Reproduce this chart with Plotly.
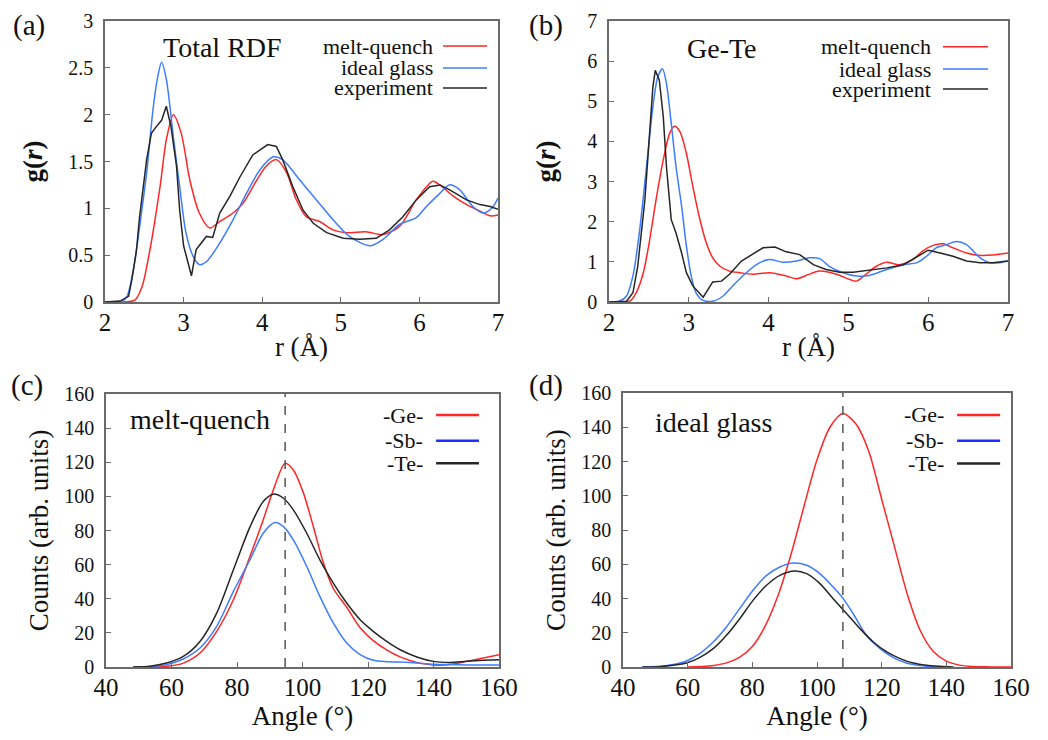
import plotly.graph_objects as go

# ---------------- data ----------------
# (a) Total RDF
r_a_mq = [2.0, 2.2, 2.38, 2.47, 2.57, 2.70, 2.78, 2.87, 2.97, 3.08, 3.2, 3.33, 3.46, 3.63, 3.76, 3.93, 4.05,
          4.18, 4.31, 4.43, 4.56, 4.73, 4.9, 5.07, 5.32, 5.54, 5.75, 5.96, 6.17, 6.26, 6.43, 6.6, 6.77, 6.9, 7.0]
g_a_mq = [0, 0, 0.02, 0.16, 0.55, 1.23, 1.73, 2.0, 1.8, 1.3, 0.95, 0.79, 0.86, 0.95, 1.06, 1.3, 1.45,
          1.52, 1.38, 1.1, 0.91, 0.86, 0.77, 0.74, 0.75, 0.72, 0.81, 1.09, 1.29, 1.25, 1.13, 1.04, 0.97, 0.92, 0.93]
r_a_ig = [2.0, 2.15, 2.22, 2.28, 2.36, 2.40, 2.44, 2.53, 2.61, 2.67, 2.72, 2.78, 2.87, 2.95, 3.03, 3.12, 3.2,
          3.29, 3.46, 3.63, 3.8, 3.97, 4.14, 4.26, 4.48, 4.69, 4.9, 5.11, 5.37, 5.54, 5.75, 5.96, 6.09, 6.26,
          6.38, 6.51, 6.68, 6.81, 6.92, 7.0]
g_a_ig = [0, 0, 0.01, 0.06, 0.34, 0.55, 0.8, 1.38, 2.05, 2.4, 2.56, 2.38, 1.76, 1.23, 0.74, 0.49, 0.4,
          0.43, 0.63, 0.88, 1.16, 1.41, 1.55, 1.52, 1.3, 1.09, 0.88, 0.70, 0.6, 0.67, 0.83, 0.9, 1.02, 1.16,
          1.25, 1.2, 1.02, 0.95, 1.0, 1.11]
r_a_ex = [2.0, 2.19, 2.30, 2.34, 2.40, 2.44, 2.53, 2.59, 2.65, 2.72, 2.78, 2.84, 2.91, 2.95, 3.0, 3.05, 3.10,
          3.16, 3.23, 3.29, 3.37, 3.46, 3.59, 3.72, 3.88, 4.01, 4.07, 4.18, 4.26, 4.39, 4.52, 4.65, 4.82, 5.03,
          5.24, 5.45, 5.62, 5.79, 5.96, 6.13, 6.26, 6.38, 6.6, 6.77, 6.9, 7.0]
g_a_ex = [0, 0.01, 0.06, 0.23, 0.55, 0.91, 1.52, 1.8, 1.87, 1.94, 2.09, 1.87, 1.45, 0.98, 0.6, 0.45, 0.28,
          0.56, 0.63, 0.7, 0.69, 0.95, 1.13, 1.34, 1.57, 1.64, 1.68, 1.66, 1.52, 1.23, 0.98, 0.84, 0.74, 0.68,
          0.67, 0.68, 0.77, 0.91, 1.09, 1.23, 1.25, 1.2, 1.09, 1.04, 1.02, 0.99]

# (b) Ge-Te partial RDF
r_b_mq = [2.0, 2.22, 2.26, 2.34, 2.43, 2.51, 2.59, 2.68, 2.76, 2.82, 2.89, 2.97, 3.05, 3.14, 3.22, 3.3, 3.39,
          3.51, 3.64, 3.8, 4.01, 4.22, 4.35, 4.47, 4.64, 4.85, 5.02, 5.1, 5.22, 5.35, 5.48, 5.64, 5.81, 5.93,
          6.06, 6.19, 6.31, 6.48, 6.65, 6.81, 7.0]
g_b_mq = [0, 0, 0.02, 0.23, 0.73, 1.55, 2.55, 3.54, 4.2, 4.38, 4.24, 3.7, 2.88, 2.05, 1.47, 1.1, 0.89,
          0.77, 0.73, 0.69, 0.73, 0.65, 0.58, 0.66, 0.77, 0.69, 0.56, 0.52, 0.69, 0.89, 0.99, 0.93, 1.06, 1.27,
          1.41, 1.45, 1.35, 1.22, 1.16, 1.17, 1.22]
r_b_ig = [2.0, 2.13, 2.22, 2.3, 2.38, 2.47, 2.55, 2.61, 2.67, 2.72, 2.78, 2.84, 2.91, 2.97, 3.03, 3.09, 3.18,
          3.3, 3.43, 3.55, 3.72, 3.89, 4.01, 4.18, 4.35, 4.51, 4.64, 4.76, 4.93, 5.1, 5.26, 5.48, 5.69, 5.86,
          5.98, 6.1, 6.23, 6.35, 6.48, 6.65, 6.77, 6.9, 7.0]
g_b_ig = [0, 0.02, 0.15, 0.65, 1.72, 3.37, 4.86, 5.6, 5.81, 5.44, 4.45, 3.37, 2.38, 1.39, 0.65, 0.23, 0.04,
          0.02, 0.15, 0.4, 0.73, 0.98, 1.06, 0.99, 1.02, 1.1, 1.08, 0.89, 0.73, 0.65, 0.66, 0.81, 0.93, 0.98,
          1.14, 1.35, 1.43, 1.51, 1.43, 1.1, 0.98, 0.98, 1.02]
r_b_ex = [2.0, 2.22, 2.3, 2.36, 2.45, 2.51, 2.55, 2.58, 2.63, 2.68, 2.72, 2.78, 2.84, 2.91, 2.97, 3.05, 3.18,
          3.24, 3.3, 3.41, 3.51, 3.66, 3.8, 3.93, 4.08, 4.22, 4.39, 4.56, 4.72, 4.89, 5.06, 5.26, 5.48, 5.69,
          5.9, 6.0, 6.15, 6.31, 6.48, 6.65, 6.81, 7.0]
g_b_ex = [0, 0.02, 0.23, 0.89, 2.55, 4.2, 5.36, 5.77, 5.53, 4.62, 3.37, 2.05, 1.72, 1.22, 0.73, 0.4, 0.12,
          0.31, 0.5, 0.52, 0.69, 1.02, 1.18, 1.35, 1.37, 1.25, 1.18, 0.93, 0.81, 0.74, 0.74, 0.79, 0.85, 0.93,
          1.18, 1.29, 1.22, 1.14, 1.02, 0.98, 0.98, 1.02]

# (c) bond-angle distributions, melt-quench
ang_c_ge = [48.3, 53.4, 58.5, 63.6, 68.7, 73.8, 78.9, 84, 88, 91.1, 94.7, 97.2, 100.3, 103.3, 106.4, 109.4,
            113.5, 117.6, 121.6, 125.7, 129.8, 134.9, 140, 145, 150.1, 155.2, 160]
cnt_c_ge = [0, 0, 0.4, 2.3, 8.2, 20.9, 39.4, 65, 86.2, 103.8, 119.4, 115.5, 101.9, 82.3, 60.9, 46,
            35, 23, 15.5, 10.1, 5.9, 2.7, 1.2, 1.4, 3.3, 5.3, 7.2]
ang_c_sb = [48.3, 53.4, 58.5, 63.6, 68.7, 73.8, 78.9, 84, 88, 91.6, 94.2, 97.2, 101.3, 105.3, 109.4, 113.5,
            117.6, 121.6, 125.7, 129.8, 134.9, 140, 145, 150.1, 155.2, 160]
cnt_c_sb = [0, 0.2, 1.4, 4.7, 11.1, 23.8, 44.3, 63, 78.4, 84.7, 82.3, 74.5, 58.9, 41.4, 25.8, 14,
            7.2, 3.9, 3.1, 2.9, 2.3, 1.6, 1.4, 1.2, 1.2, 1.2]
ang_c_te = [48.3, 53.4, 58.5, 63.6, 68.7, 73.8, 78.9, 84, 88, 91.1, 94.2, 97.2, 101.3, 105.3, 109.4, 113.5,
            117.6, 121.6, 125.7, 129.8, 134.9, 140, 145, 150.1, 155.2, 160]
cnt_c_te = [0, 0.4, 2.3, 6.2, 15, 31.6, 57, 82.3, 97, 101.3, 98.9, 92.1, 78.4, 62.8, 49.2, 37.5,
            27.7, 20.9, 15, 10.1, 5.9, 3.3, 2.7, 3.3, 3.9, 4.3]
ref_angle_c = 94.7

# (d) bond-angle distributions, ideal glass
ang_d_ge = [60, 64, 68, 72, 76, 80, 84, 88, 92, 96, 100, 104, 108, 112, 116, 120, 124, 128, 132, 136,
            140, 144, 148, 152, 156, 160]
cnt_d_ge = [0, 0.3, 0.9, 2.4, 5.6, 12, 24, 42, 66, 94, 121, 140, 148, 142, 126, 98, 70, 42, 21, 9,
            3.4, 1.1, 0.3, 0.1, 0, 0]
ang_d_sb = [46, 51.4, 55.5, 59.6, 63.7, 67.9, 72, 76.1, 80.2, 84.4, 88.5, 92.6, 96.8, 100.9, 105, 108.1,
            111.2, 115.3, 119.5, 123.6, 127.7, 131.8, 136, 141]
cnt_d_sb = [0, 0.4, 1.4, 3.5, 7.8, 14.6, 23.4, 34.1, 44.8, 53.5, 58.4, 60.7, 59.4, 54.5, 46.7, 39.9,
            31.1, 18.5, 10.7, 5.5, 2.3, 0.8, 0.2, 0]
ang_d_te = [46, 51.4, 55.5, 59.6, 63.7, 67.9, 72, 76.1, 80.2, 84.4, 88.5, 93.1, 96.8, 100.9, 105, 109.2,
            113.3, 117.4, 121.6, 125.7, 129.8, 133.9, 138, 142.2]
cnt_d_te = [0, 0.2, 1, 2.3, 5.5, 10.7, 18.5, 28.2, 38.9, 47.7, 53.5, 56.1, 54.5, 48.7, 39.9, 31.1,
            22.4, 14.6, 8.8, 4.9, 2.3, 1, 0.4, 0]
ref_angle_d = 108

rdf_series = ["melt-quench", "ideal glass", "experiment"]
bad_series = ["-Ge-", "-Sb-", "-Te-"]

# ---------------- style ----------------
FONT = "Liberation Serif"
RED = "#ff2626"
BLUE = "#3d7cff"
BLUE_LEG = "#1e2dff"
BLACK = "#262626"
FRAME = "#6a6a6a"
TXT = "#111111"

fig = go.Figure()


def add(x, y, color, xa, ya, name, shape="spline"):
    fig.add_trace(go.Scatter(
        x=x, y=y, mode="lines", name=name, showlegend=False,
        line=dict(color=color, width=1.5, shape=shape, smoothing=0.8),
        xaxis=xa, yaxis=ya, hoverinfo="x+y+name"))


add(r_a_mq, g_a_mq, RED, "x", "y", rdf_series[0])
add(r_a_ig, g_a_ig, BLUE, "x", "y", rdf_series[1])
add(r_a_ex, g_a_ex, BLACK, "x", "y", rdf_series[2], "linear")

add(r_b_mq, g_b_mq, RED, "x2", "y2", rdf_series[0])
add(r_b_ig, g_b_ig, BLUE, "x2", "y2", rdf_series[1])
add(r_b_ex, g_b_ex, BLACK, "x2", "y2", rdf_series[2], "linear")

add(ang_c_ge, cnt_c_ge, RED, "x3", "y3", bad_series[0])
add(ang_c_sb, cnt_c_sb, BLUE, "x3", "y3", bad_series[1])
add(ang_c_te, cnt_c_te, BLACK, "x3", "y3", bad_series[2])

add(ang_d_ge, cnt_d_ge, RED, "x4", "y4", bad_series[0])
add(ang_d_sb, cnt_d_sb, BLUE, "x4", "y4", bad_series[1])
add(ang_d_te, cnt_d_te, BLACK, "x4", "y4", bad_series[2])

# page has an 8px default body margin: figure sits at (8, 8) in the window
OFF = 8
W, H = 1048 - OFF, 740 - OFF


def px_x(a, b):
    return [(a - OFF) / W, (b - OFF) / W]


def px_y(top, bottom):
    return [1 - (bottom - OFF) / H, 1 - (top - OFF) / H]


def xaxis(domain, anchor, rng, dtick, title):
    return dict(domain=domain, anchor=anchor, range=rng, dtick=dtick, tick0=rng[0],
                ticks="inside", ticklen=5, tickwidth=1.2, tickcolor=FRAME,
                showline=True, linecolor=FRAME, linewidth=1.5, mirror=True,
                showgrid=False, zeroline=False, automargin=False, ticklabelstandoff=-3,
                tickfont=dict(family=FONT, size=25, color=TXT),
                title=dict(text=title, font=dict(family=FONT, size=27, color=TXT), standoff=2))


def yaxis(domain, anchor, rng, dtick, title, standoff):
    return dict(domain=domain, anchor=anchor, range=rng, dtick=dtick, tick0=0,
                ticks="inside", ticklen=5, tickwidth=1.2, tickcolor=FRAME,
                showline=True, linecolor=FRAME, linewidth=1.5, mirror=True,
                showgrid=False, zeroline=False, ticklabelstandoff=6, automargin=False,
                tickfont=dict(family=FONT, size=20, color=TXT),
                title=dict(text=title, font=dict(family=FONT, size=27, color=TXT), standoff=standoff))


gr_title = "<b>g(<i>r</i>)</b>"
fig.update_layout(
    width=W, height=H, margin=dict(l=0, r=0, t=0, b=0, pad=0, autoexpand=False),
    paper_bgcolor="white", plot_bgcolor="white",
    font=dict(family=FONT, color=TXT),
    showlegend=False,
    xaxis=xaxis(px_x(105, 498), "y", [2, 7], 1, "r (Å)"),
    yaxis=yaxis(px_y(21, 302), "x", [0, 3], 0.5, gr_title, 18),
    xaxis2=xaxis(px_x(609, 1008), "y2", [2, 7], 1, "r (Å)"),
    yaxis2=yaxis(px_y(21, 302), "x2", [0, 7], 1, gr_title, 24),
    xaxis3=xaxis(px_x(106, 499), "y3", [40, 160], 20, "Angle (°)"),
    yaxis3=yaxis(px_y(394, 667), "x3", [0, 160], 20, "Counts (arb. units)", 8),
    xaxis4=xaxis(px_x(623, 1011), "y4", [40, 160], 20, "Angle (°)"),
    yaxis4=yaxis(px_y(393, 667), "x4", [0, 160], 20, "Counts (arb. units)", 8),
)

# dashed reference lines
fig.add_shape(type="line", xref="x3", yref="y3 domain", x0=ref_angle_c, x1=ref_angle_c, y0=0, y1=1,
              line=dict(color="#555555", width=1.5, dash="dash"))
fig.add_shape(type="line", xref="x4", yref="y4 domain", x0=ref_angle_d, x1=ref_angle_d, y0=0, y1=1,
              line=dict(color="#555555", width=1.5, dash="dash"))

# in-panel legends (text left of the line sample)
legend_specs = [
    ("x", "y", rdf_series, [RED, BLUE, BLACK], 0.84, 0.86, 0.972, [0.911, 0.833, 0.762], 1.5, 22),
    ("x2", "y2", rdf_series, [RED, BLUE, BLACK], 0.812, 0.837, 0.95, [0.908, 0.829, 0.758], 1.5, 22),
    ("x3", "y3", bad_series, [RED, BLUE_LEG, BLACK], 0.812, 0.84, 0.949, [0.923, 0.829, 0.746], 2.5, 22),
    ("x4", "y4", bad_series, [RED, BLUE_LEG, BLACK], 0.832, 0.861, 0.972, [0.92, 0.826, 0.743], 2.5, 22),
]
for xa, ya, labels, cols, xt, xl0, xl1, ys, lw, fs in legend_specs:
    for lab, col, yy in zip(labels, cols, ys):
        fig.add_annotation(text=lab, xref=f"{xa} domain", yref=f"{ya} domain", x=xt, y=yy,
                           xanchor="right", yanchor="middle", showarrow=False,
                           font=dict(family=FONT, size=fs, color=TXT))
        fig.add_shape(type="line", xref=f"{xa} domain", yref=f"{ya} domain",
                      x0=xl0, x1=xl1, y0=yy, y1=yy, line=dict(color=col, width=lw))

# panel inner titles
fig.add_annotation(text="Total RDF", xref="x domain", yref="y domain", x=0.30, y=0.905,
                   xanchor="center", yanchor="middle", showarrow=False,
                   font=dict(family=FONT, size=28, color=TXT))
fig.add_annotation(text="Ge-Te", xref="x2 domain", yref="y2 domain", x=0.283, y=0.902,
                   xanchor="center", yanchor="middle", showarrow=False,
                   font=dict(family=FONT, size=28, color=TXT))
fig.add_annotation(text="melt-quench", xref="x3 domain", yref="y3 domain", x=0.056, y=0.905,
                   xanchor="left", yanchor="middle", showarrow=False,
                   font=dict(family=FONT, size=28, color=TXT))
fig.add_annotation(text="ideal glass", xref="x4 domain", yref="y4 domain", x=0.077, y=0.894,
                   xanchor="left", yanchor="middle", showarrow=False,
                   font=dict(family=FONT, size=28, color=TXT))

# panel letters (top row anchored at the figure's top edge so they are not clipped)
for lab, xp, yp, anch in [("(a)", 29, OFF, "top"), ("(b)", 546, OFF, "top"),
                          ("(c)", 27, 385, "middle"), ("(d)", 546, 385, "middle")]:
    fig.add_annotation(text=lab, xref="paper", yref="paper", x=(xp - OFF) / W, y=1 - (yp - OFF) / H,
                       xanchor="center", yanchor=anch, showarrow=False, borderpad=0,
                       font=dict(family=FONT, size=29, color=TXT))

fig.write_html("out.html")
